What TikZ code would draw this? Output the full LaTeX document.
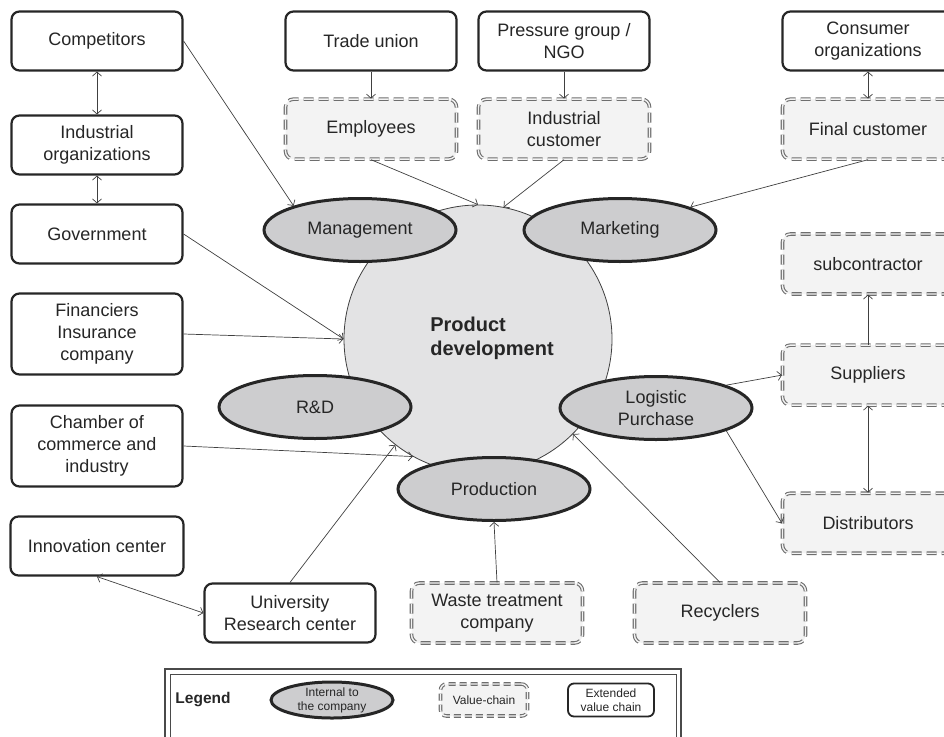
\documentclass[tikz,border=0pt]{standalone}
\usepackage{fontspec}
\setmainfont{Liberation Sans}
\usetikzlibrary{positioning,arrows.meta,shapes.geometric}
\definecolor{txt}{HTML}{262626}
\definecolor{boxline}{HTML}{262626}
\definecolor{dashgray}{HTML}{6E6E6E}
\definecolor{valfill}{HTML}{F3F3F3}
\definecolor{intfill}{HTML}{CDCDCF}
\definecolor{corefill}{HTML}{E3E3E4}
\definecolor{linkgray}{HTML}{404040}
\definecolor{legline}{HTML}{4A4A4A}
\tikzset{
  extbox/.style={draw=boxline, line width=2.2pt, rounded corners=8pt, fill=white,
    minimum width=171pt, minimum height=59pt, align=center, text=txt},
  valbox/.style={draw=dashgray, line width=1.1pt, double=valfill, double distance=1.4pt,
    dash pattern=on 10pt off 5pt, rounded corners=8pt, fill=valfill,
    minimum width=171pt, minimum height=60pt, align=center, text=txt},
  internal/.style={ellipse, draw=boxline, line width=3pt, fill=intfill, inner sep=0pt,
    minimum width=192pt, minimum height=63pt, align=center, text=txt},
  link/.style={draw=linkgray, line width=0.7pt, -{Straight Barb[length=4pt,width=9pt]}},
  twoway/.style={link, {Straight Barb[length=4pt,width=9pt]}-{Straight Barb[length=4pt,width=9pt]}},
  legtext/.style={font=\fontsize{12}{14}\selectfont}
}

\begin{document}
\begin{tikzpicture}[x=1pt, y=-1pt, font=\fontsize{18}{22}\selectfont]
  \clip (0,0) rectangle (944,736);

  % product development core
  \node[circle, draw=linkgray, line width=0.8pt, fill=corefill, minimum size=268pt, inner sep=0pt] (pd) at (478,339) {};
  \node[font=\fontsize{20}{24}\selectfont\bfseries, align=left, text=txt] (pdtxt) at (492,338) {Product\\development};

  % internal to the company
  \node[internal] (mgmt) at (360,230) {Management};
  \node[internal] (mkt)  at (620,230) {Marketing};
  \node[internal] (rnd)  at (315,407) {R\&D};
  \node[internal] (logi) at (656,408) {Logistic\\Purchase};
  \node[internal] (prod) at (494,489) {Production};

  % extended value chain, left column
  \node[extbox] (comp)   at (97,41)  {Competitors};
  \node[extbox] (indorg) at (97,145) {Industrial\\organizations};
  \node[extbox] (gov)    at (97,234) {Government};
  \node[extbox, minimum height=81pt] (fin)  at (97,334) {Financiers\\Insurance\\company};
  \node[extbox, minimum height=81pt] (cham) at (97,446) {Chamber of\\commerce and\\industry};
  \node[extbox, minimum width=173pt] (innov) at (97,546) {Innovation center};
  \node[extbox] (univ) at (290,613) {University\\Research center};

  % top row
  \node[extbox] (tu) at (371,41) {Trade union};
  \node[valbox, below=27pt of tu] (emp) {Employees};
  \node[extbox] (ngo) at (564,41) {Pressure group /\\NGO};
  \node[valbox, below=27pt of ngo] (indcust) {Industrial\\customer};
  \node[extbox] (cons) at (868,41) {Consumer\\organizations};
  \node[valbox, below=27pt of cons] (fcust) {Final customer};

  % right column
  \node[valbox] (sub) at (868,264) {subcontractor};
  \node[valbox, below=50pt of sub] (sup) {Suppliers};
  \node[valbox, below=87pt of sup] (dist) {Distributors};

  % bottom row
  \node[valbox] (waste) at (497,613) {Waste treatment\\company};
  \node[valbox] (rec) at (720,613) {Recyclers};

  % links
  \draw[twoway] (comp) -- (indorg);
  \draw[twoway] (indorg) -- (gov);
  \draw[link] (comp.east) -- (mgmt.160);
  \draw[link] (gov.east) -- (pd.west);
  \draw[link] (fin.east) -- (pd.west);
  \draw[link] (cham.east) -- (pd.241);
  \draw[twoway] (innov.south) -- (univ.west);
  \draw[link] (univ.north) -- (pd.232);
  \draw[link] (tu) -- (emp);
  \draw[link] (ngo) -- (indcust);
  \draw[twoway] (cons) -- (fcust);
  \draw[link] (emp.south) -- (pd.north);
  \draw[link] (indcust.south) -- (pd.79);
  \draw[link] (fcust.south) -- (mkt.18);
  \draw[link] (sup) -- (sub);
  \draw[twoway] (sup) -- (dist);
  \draw[link] (logi.18) -- (sup.west);
  \draw[link] (logi.-18) -- (dist.west);
  \draw[link] (waste.north) -- (prod.south);
  \draw[link] (rec.north) -- (pd.315);

  % legend
  \draw[legline, line width=1.6pt] (165,669) rectangle (681,745);
  \draw[legline, line width=0.6pt] (170,674) rectangle (676,745);
  \node[font=\fontsize{15.5}{18}\selectfont\bfseries, text=txt] (legtitle) at (203,700) {Legend};
  \node[internal, legtext, minimum width=122pt, minimum height=36pt] (legint) at (332,700) {Internal to\\the company};
  \node[valbox, legtext, minimum width=87pt, minimum height=32pt, rounded corners=6pt,
    dash pattern=on 7pt off 4pt] (legval) at (484,700) {Value-chain};
  \node[extbox, legtext, minimum width=86pt, minimum height=33pt, rounded corners=6pt,
    line width=1.8pt] (legext) at (611,700) {Extended\\value chain};
\end{tikzpicture}
\end{document}
